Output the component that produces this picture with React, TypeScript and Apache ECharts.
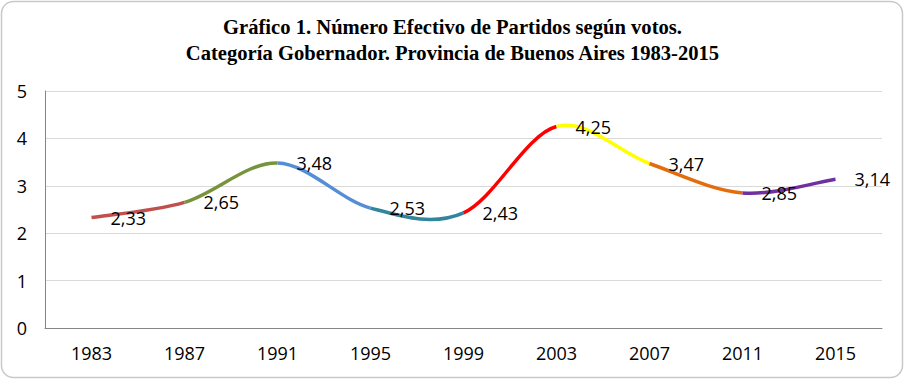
import React, { useEffect, useRef } from 'react';
import * as echarts from 'echarts';

const years = ['1983', '1987', '1991', '1995', '1999', '2003', '2007', '2011', '2015'];
const nep = [2.33, 2.65, 3.48, 2.53, 2.43, 4.25, 3.47, 2.85, 3.14];
const segmentColors = ['#C0504D', '#77933C', '#558ED5', '#31859C', '#FF0000', '#FFFF00', '#E46C0A', '#7030A0'];
const titleLines = [
  'Gráfico 1. Número Efectivo de Partidos según votos.',
  'Categoría Gobernador. Provincia de Buenos Aires 1983-2015',
];

export default function App() {
  const ref = useRef<HTMLDivElement>(null);
  useEffect(() => {
    if (!ref.current) return;
    const chart = echarts.init(ref.current, undefined, { renderer: 'svg' });
    const n = nep.length;
    const renderSegment = (params: any, api: any) => {
      const i = params.dataIndex;
      if (i >= n - 1) return null;
      const pt = (k: number) => {
        const kk = Math.max(0, Math.min(n - 1, k));
        return api.coord([kk, nep[kk]]);
      };
      const p0 = pt(i - 1);
      const p1 = pt(i);
      const p2 = pt(i + 1);
      const p3 = pt(i + 2);
      const t = 1 / 6;
      return {
        type: 'bezierCurve',
        shape: {
          x1: p1[0],
          y1: p1[1],
          x2: p2[0],
          y2: p2[1],
          cpx1: p1[0] + (p2[0] - p0[0]) * t,
          cpy1: p1[1] + (p2[1] - p0[1]) * t,
          cpx2: p2[0] - (p3[0] - p1[0]) * t,
          cpy2: p2[1] - (p3[1] - p1[1]) * t,
        },
        style: { stroke: segmentColors[i], lineWidth: 3.5, fill: null },
      };
    };
    chart.setOption({
      animation: false,
      backgroundColor: '#FFFFFF',
      title: {
        text: titleLines.join('\n'),
        left: 'center',
        top: 14,
        padding: 0,
        textStyle: {
          fontFamily: 'Liberation Serif',
          fontWeight: 'bold',
          fontSize: 20.6,
          lineHeight: 26,
          color: '#000000',
        },
      },
      graphic: [
        {
          type: 'rect',
          shape: { x: 1.5, y: 1.5, width: 901, height: 376, r: 12 },
          style: { fill: 'none', stroke: '#C9C9C9', lineWidth: 1.5 },
          silent: true,
        },
      ],
      grid: { left: 45, right: 23, top: 91, bottom: 52, containLabel: false },
      xAxis: {
        type: 'category',
        data: years,
        boundaryGap: true,
        axisLine: { show: true, lineStyle: { color: '#868686', width: 1 } },
        axisTick: { show: false },
        axisLabel: { color: '#000000', fontFamily: 'Open Sans', fontSize: 18, margin: 16 },
      },
      yAxis: {
        type: 'value',
        min: 0,
        max: 5,
        interval: 1,
        axisLine: { show: true, lineStyle: { color: '#868686', width: 1 } },
        axisTick: { show: false },
        axisLabel: { color: '#000000', fontFamily: 'Open Sans', fontSize: 18, margin: 18 },
        splitLine: { show: true, lineStyle: { color: '#D9D9D9', width: 1 } },
      },
      series: [
        {
          type: 'custom',
          data: nep.map((v, i) => [i, v]),
          encode: { x: 0, y: 1 },
          renderItem: renderSegment,
          z: 2,
        },
        {
          type: 'line',
          data: nep,
          symbol: 'circle',
          symbolSize: 0,
          showSymbol: true,
          lineStyle: { width: 0, opacity: 0 },
          z: 3,
          label: {
            show: true,
            position: 'right',
            distance: 19,
            color: '#000000',
            fontFamily: 'Open Sans',
            fontSize: 18,
            formatter: (p: any) => p.value.toFixed(2).replace('.', ','),
          },
        },
      ],
    });
    return () => chart.dispose();
  }, []);
  return (
    <div
      ref={ref}
      style={{ position: 'fixed', left: 0, top: 0, width: 905, height: 380 }}
    />
  );
}
